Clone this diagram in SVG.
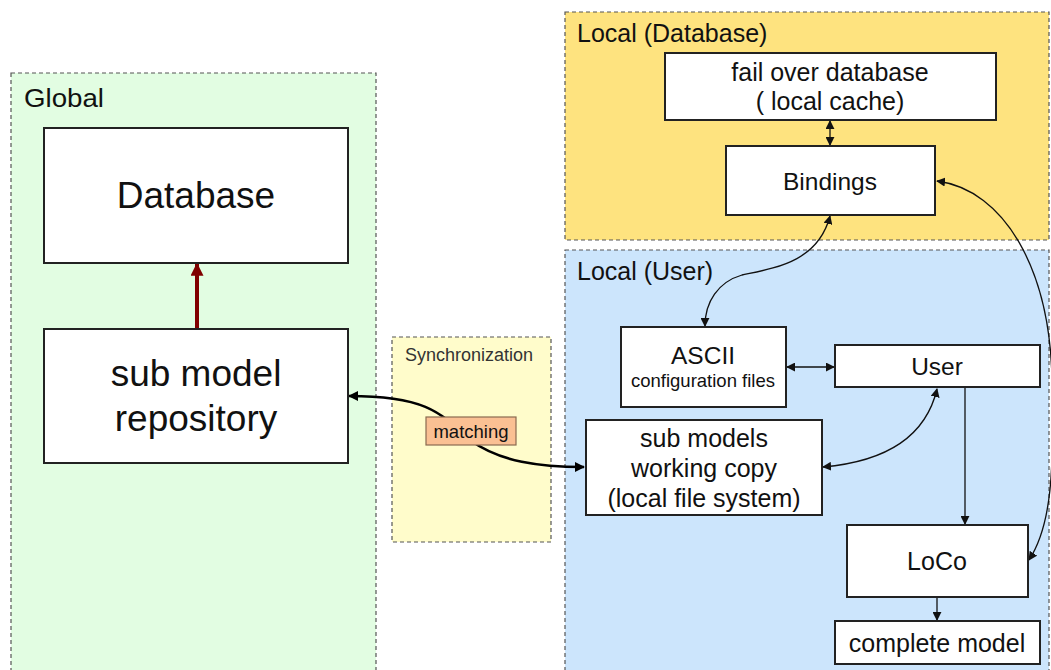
<svg xmlns="http://www.w3.org/2000/svg" width="1051" height="670" viewBox="0 0 1051 670">
<style>
.panel{stroke:#555;stroke-width:1.2;stroke-dasharray:4,3}
.node{fill:#fff;stroke:#222;stroke-width:2}
.t{font-family:"Liberation Sans",Arial,sans-serif;fill:#111;text-anchor:middle}
.pl{font-family:"Liberation Sans",Arial,sans-serif;fill:#111;font-size:25px}
.c{fill:none;stroke:#111;stroke-width:1.3}
.ct{fill:none;stroke:#000;stroke-width:2.6}
</style>
<defs>
<marker id="ah" viewBox="0 0 10 10" refX="9" refY="5" markerWidth="9" markerHeight="9" markerUnits="userSpaceOnUse" orient="auto-start-reverse"><path d="M0,0 L10,5 L0,10 z" fill="#111"/></marker>
<marker id="ahT" viewBox="0 0 10 10" refX="9" refY="5" markerWidth="10" markerHeight="10" markerUnits="userSpaceOnUse" orient="auto-start-reverse"><path d="M0,0 L10,5 L0,10 z" fill="#000"/></marker>
<marker id="ahR" viewBox="0 0 10 10" refX="9" refY="5" markerWidth="13" markerHeight="13" markerUnits="userSpaceOnUse" orient="auto"><path d="M0,0 L10,5 L0,10 z" fill="#800000"/></marker>
</defs>
<rect width="1051" height="670" fill="#fff"/>

<g id="global">
<rect class="panel" x="11" y="73" width="365" height="610" fill="#e2fde2"/>
<text class="pl" x="24" y="107" font-size="27" textLength="80" lengthAdjust="spacingAndGlyphs">Global</text>
</g>
<g id="local-database">
<rect class="panel" x="565" y="12" width="484" height="228" fill="#fee37f"/>
<text class="pl" x="577" y="42">Local (Database)</text>
</g>
<g id="local-user">
<rect class="panel" x="565" y="250" width="484" height="430" fill="#cce5fc"/>
<text class="pl" x="577" y="280">Local (User)</text>
</g>
<g id="synchronization">
<rect class="panel" x="392" y="337" width="159" height="205" fill="#fffccb"/>
<text x="405" y="361" font-family="Liberation Sans,Arial,sans-serif" font-size="18" fill="#333">Synchronization</text>
</g>

<g id="connectors">
<line x1="197" y1="329" x2="197" y2="264" stroke="#800000" stroke-width="4" marker-end="url(#ahR)"/>
<path class="ct" d="M584,467 C540,467 500,462 470,440 C440,412 425,396 349,396" marker-start="url(#ahT)" marker-end="url(#ahT)"/>
<line class="c" x1="830" y1="121" x2="830" y2="145" marker-start="url(#ah)" marker-end="url(#ah)"/>
<path class="c" d="M830,216 C818,262 775,268 742,275 C718,282 705,302 705,326" marker-start="url(#ah)" marker-end="url(#ah)"/>
<line class="c" x1="787" y1="367" x2="834" y2="367" marker-start="url(#ah)" marker-end="url(#ah)"/>
<path class="c" d="M937,389 C925,440 880,462 823,467" marker-start="url(#ah)" marker-end="url(#ah)"/>
<line class="c" x1="965" y1="388" x2="965" y2="524" marker-end="url(#ah)"/>
<line class="c" x1="937" y1="598" x2="937" y2="620" marker-end="url(#ah)"/>
<path class="c" d="M937,181 C1005,190 1050,270 1052,380 C1054,470 1052,525 1029,560" marker-start="url(#ah)" marker-end="url(#ah)"/>
</g>

<g id="database">
<rect class="node" x="44" y="128" width="304" height="135"/>
<text class="t" x="196" y="208" font-size="37">Database</text>
</g>
<g id="sub-model-repository">
<rect class="node" x="44" y="329" width="304" height="134"/>
<text class="t" x="196" y="386" font-size="37">sub model</text>
<text class="t" x="196" y="431" font-size="37">repository</text>
</g>
<g id="matching">
<rect x="426" y="417" width="90" height="28" fill="#fac093" stroke="#8a6a50" stroke-width="1.2"/>
<text class="t" x="471" y="438" font-size="18.5">matching</text>
</g>
<g id="fail-over-database">
<rect class="node" x="665" y="53" width="331" height="67"/>
<text class="t" x="830" y="81" font-size="25">fail over database</text>
<text class="t" x="830" y="110" font-size="25">( local cache)</text>
</g>
<g id="bindings">
<rect class="node" x="726" y="146" width="209" height="69"/>
<text class="t" x="830" y="190" font-size="24.5">Bindings</text>
</g>
<g id="ascii">
<rect class="node" x="621" y="327" width="165" height="80"/>
<text class="t" x="703" y="364" font-size="24.5">ASCII</text>
<text class="t" x="703" y="387" font-size="18.5">configuration files</text>
</g>
<g id="user">
<rect class="node" x="835" y="345" width="205" height="42"/>
<text class="t" x="937" y="375" font-size="24.5">User</text>
</g>
<g id="sub-models-working-copy">
<rect class="node" x="586" y="420" width="236" height="95"/>
<text class="t" x="704" y="447" font-size="25">sub models</text>
<text class="t" x="704" y="477" font-size="25">working copy</text>
<text class="t" x="704" y="507" font-size="25">(local file system)</text>
</g>
<g id="loco">
<rect class="node" x="847" y="525" width="181" height="72"/>
<text class="t" x="937" y="570" font-size="25">LoCo</text>
</g>
<g id="complete-model">
<rect class="node" x="835" y="621" width="205" height="43"/>
<text class="t" x="937" y="652" font-size="25">complete model</text>
</g>
</svg>
